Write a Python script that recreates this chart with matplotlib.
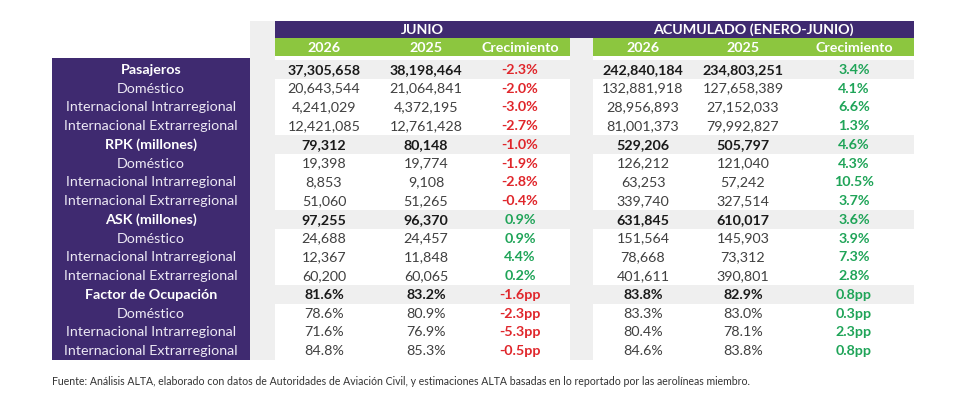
import matplotlib

matplotlib.use("Agg")

import matplotlib.pyplot as plt
from matplotlib.patches import Rectangle

plt.rcParams["font.family"] = ["Lato", "DejaVu Sans"]

PURPLE = "#3f2a70"
GREEN = "#8cc63f"
GAP_GRAY = "#efefef"
RED = "#e0262b"
POS_GREEN = "#1fa458"

row_labels = [
    "Pasajeros", "Doméstico", "Internacional Intrarregional", "Internacional Extrarregional",
    "RPK (millones)", "Doméstico", "Internacional Intrarregional", "Internacional Extrarregional",
    "ASK (millones)", "Doméstico", "Internacional Intrarregional", "Internacional Extrarregional",
    "Factor de Ocupación", "Doméstico", "Internacional Intrarregional", "Internacional Extrarregional",
]
bold_rows = [0, 4, 8, 12]

junio_2026 = [
    "37,305,658", "20,643,544", "4,241,029", "12,421,085",
    "79,312", "19,398", "8,853", "51,060",
    "97,255", "24,688", "12,367", "60,200",
    "81.6%", "78.6%", "71.6%", "84.8%",
]
junio_2025 = [
    "38,198,464", "21,064,841", "4,372,195", "12,761,428",
    "80,148", "19,774", "9,108", "51,265",
    "96,370", "24,457", "11,848", "60,065",
    "83.2%", "80.9%", "76.9%", "85.3%",
]
junio_growth = [
    "-2.3%", "-2.0%", "-3.0%", "-2.7%",
    "-1.0%", "-1.9%", "-2.8%", "-0.4%",
    "0.9%", "0.9%", "4.4%", "0.2%",
    "-1.6pp", "-2.3pp", "-5.3pp", "-0.5pp",
]
acum_2026 = [
    "242,840,184", "132,881,918", "28,956,893", "81,001,373",
    "529,206", "126,212", "63,253", "339,740",
    "631,845", "151,564", "78,668", "401,611",
    "83.8%", "83.3%", "80.4%", "84.6%",
]
acum_2025 = [
    "234,803,251", "127,658,389", "27,152,033", "79,992,827",
    "505,797", "121,040", "57,242", "327,514",
    "610,017", "145,903", "73,312", "390,801",
    "82.9%", "83.0%", "78.1%", "83.8%",
]
acum_growth = [
    "3.4%", "4.1%", "6.6%", "1.3%",
    "4.6%", "4.3%", "10.5%", "3.7%",
    "3.6%", "3.9%", "7.3%", "2.8%",
    "0.8pp", "0.3pp", "2.3pp", "0.8pp",
]
sub_headers = ["2026", "2025", "Crecimiento"]
group_titles = ["JUNIO", "ACUMULADO (ENERO-JUNIO)"]
source_note = (
    "Fuente: Análisis ALTA, elaborado con datos de Autoridades de Aviación Civil, "
    "y estimaciones ALTA basadas en lo reportado por las aerolíneas miembro."
)

# layout in pixel units
LABEL_X0, LABEL_X1 = 52, 250
GAP1 = (250, 275)
BLOCK1 = (275, 570)
GAP2 = (570, 593)
BLOCK2 = (593, 914)
TOP, HEAD_SPLIT, HEAD_BOTTOM = 21, 38, 56
LABEL_TOP = 58
BODY_TOP = 60
ROW_H = 18.75
BLOCK1_CENTERS = [324, 426, 520]
BLOCK2_CENTERS = [643, 743, 854]
FS = 10.3

fig = plt.figure(figsize=(9.6, 4.15), dpi=100)
ax = fig.add_axes([0, 0, 1, 1])
ax.set_xlim(0, 960)
ax.set_ylim(415, 0)
ax.axis("off")

n_rows = len(row_labels)
body_bottom = BODY_TOP + n_rows * ROW_H


def rect(x0, y0, x1, y1, color):
    ax.add_patch(Rectangle((x0, y0), x1 - x0, y1 - y0, facecolor=color, edgecolor="none"))


# gap columns and header bars
rect(GAP1[0], TOP, GAP1[1], body_bottom, GAP_GRAY)
rect(GAP2[0], HEAD_SPLIT, GAP2[1], body_bottom, GAP_GRAY)
rect(BLOCK1[0], TOP, BLOCK2[1], HEAD_SPLIT, PURPLE)
rect(BLOCK1[0], HEAD_SPLIT, BLOCK1[1], HEAD_BOTTOM, GREEN)
rect(BLOCK2[0], HEAD_SPLIT, BLOCK2[1], HEAD_BOTTOM, GREEN)
rect(LABEL_X0, LABEL_TOP, LABEL_X1, body_bottom, PURPLE)

for i in bold_rows:
    y0 = BODY_TOP + i * ROW_H
    rect(BLOCK1[0], y0, BLOCK2[1], y0 + ROW_H, GAP_GRAY)

ax.text(sum(BLOCK1) / 2, (TOP + HEAD_SPLIT) / 2 + 0.5, group_titles[0], color="white",
        fontsize=FS, fontweight="bold", ha="center", va="center")
ax.text(sum(BLOCK2) / 2, (TOP + HEAD_SPLIT) / 2 + 0.5, group_titles[1], color="white",
        fontsize=FS, fontweight="bold", ha="center", va="center")
for centers in (BLOCK1_CENTERS, BLOCK2_CENTERS):
    for cx, title in zip(centers, sub_headers):
        ax.text(cx, (HEAD_SPLIT + HEAD_BOTTOM) / 2 + 0.5, title, color="white",
                fontsize=FS, fontweight="bold", ha="center", va="center")

columns = [junio_2026, junio_2025, junio_growth, acum_2026, acum_2025, acum_growth]
centers = BLOCK1_CENTERS + BLOCK2_CENTERS

for i, label in enumerate(row_labels):
    yc = BODY_TOP + (i + 0.5) * ROW_H + 0.5
    bold = i in bold_rows
    weight = "bold" if bold else "normal"
    ax.text((LABEL_X0 + LABEL_X1) / 2, yc, label, color="white" if bold else "#ece8f4",
            fontsize=FS, fontweight=weight, ha="center", va="center")
    for j, (cx, col) in enumerate(zip(centers, columns)):
        value = col[i]
        if j in (2, 5):
            color = RED if value.startswith("-") else POS_GREEN
            w = "bold"
        else:
            color = "#1a1a1a" if bold else "#404040"
            w = weight
        ax.text(cx, yc, value, color=color, fontsize=FS, fontweight=w,
                ha="center", va="center")

ax.text(LABEL_X0, 381, source_note, color="#333333", fontsize=7.6,
        ha="left", va="center")

fig.savefig("out.png", dpi=100)
plt.close(fig)
